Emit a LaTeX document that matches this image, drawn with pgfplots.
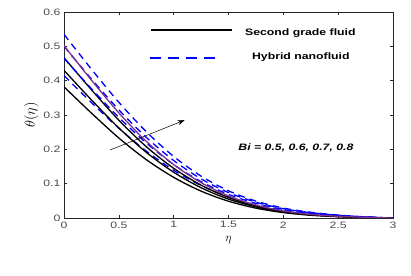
\documentclass[border=0pt]{standalone}
\usepackage{pgfplots}
\pgfplotsset{compat=1.18}
\usepackage{pgfplotstable}
\usepackage{fontspec}
\setmainfont{Liberation Sans}[FakeStretch=1.32]
\usetikzlibrary{arrows.meta}
\definecolor{mpurple}{rgb}{0.494,0.184,0.556}
\definecolor{tickgray}{gray}{0.30}
\definecolor{axgray}{gray}{0.15}

\pgfplotstableread{
eta   ka     kb     kc     kd     ba     bb     bc     bd
0     0.382  0.430  0.467  0.502  0.415  0.465  0.500  0.535
0.25  0.3056 0.344  0.3736 0.4016 0.3362 0.3767 0.405  0.4334
0.5   0.2330 0.2623 0.2849 0.3062 0.2615 0.2930 0.315  0.3371
0.75  0.1700 0.1914 0.2078 0.2234 0.1951 0.2186 0.235  0.2515
1.0   0.1184 0.1333 0.1448 0.1556 0.1390 0.1558 0.1675 0.1792
1.25  0.0783 0.0882 0.0957 0.1029 0.0946 0.1060 0.114  0.1220
1.5   0.0489 0.0550 0.0598 0.0643 0.0614 0.0688 0.074  0.0792
1.75  0.0287 0.0323 0.0350 0.0377 0.0382 0.0428 0.046  0.0492
2.0   0.0157 0.0176 0.0191 0.0206 0.0224 0.0251 0.027  0.0289
2.25  0.0080 0.0090 0.0098 0.0105 0.0129 0.0144 0.0155 0.0166
2.5   0.0038 0.0043 0.0047 0.0050 0.0066 0.0074 0.008  0.0086
2.75  0.0015 0.0017 0.0019 0.0020 0.0025 0.0028 0.003  0.0032
3.0   0      0      0      0      0      0      0      0
}\datatab

\begin{document}
\begin{tikzpicture}
\useasboundingbox (-64pt,-57pt) rectangle (347pt,218pt);
\begin{axis}[
  at={(0pt,0pt)}, anchor=south west,
  scale only axis, width=329pt, height=206pt,
  xmin=0, xmax=3, ymin=0, ymax=0.6,
  xtick={0,0.5,1,1.5,2,2.5,3},
  ytick={0,0.1,0.2,0.3,0.4,0.5,0.6},
  tick align=inside,
  major tick length=3pt,
  axis line style={axgray, line width=0.7pt},
  every tick/.style={axgray, line width=0.5pt},
  tick label style={font=\fontsize{9.3}{10}\selectfont, text=tickgray},
  /pgf/number format/assume math mode=true,
  yticklabel style={/pgf/number format/.cd, fixed, precision=1},
  xticklabel style={/pgf/number format/.cd, fixed, precision=1},
  xlabel={\fontsize{13}{14}\selectfont$\eta$},
  ylabel={\fontsize{14}{15}\selectfont$\theta(\eta)$},
  xlabel style={yshift=-1pt},
  ylabel style={yshift=-2pt},
]
\addplot[black, line width=1.3pt, smooth] table[x=eta, y=ka] {\datatab};
\addplot[blue, line width=1.3pt, smooth, dash pattern=on 7pt off 5pt] table[x=eta, y=ba] {\datatab};
\addplot[black, line width=1.3pt, smooth] table[x=eta, y=kb] {\datatab};
\addplot[black, line width=1.3pt, smooth] table[x=eta, y=kc] {\datatab};
\addplot[blue, line width=1.3pt, smooth, dash pattern=on 7pt off 5pt] table[x=eta, y=bb] {\datatab};
\addplot[blue, line width=1.3pt, smooth, dash pattern=on 7pt off 5pt] table[x=eta, y=bc] {\datatab};
\addplot[blue, line width=1.3pt, smooth, dash pattern=on 7pt off 5pt] table[x=eta, y=bd] {\datatab};
\addplot[mpurple, line width=1.3pt, smooth] table[x=eta, y=kd] {\datatab};
% legend
\draw[black, line width=1.3pt] (axis cs:0.79,0.548) -- (axis cs:1.53,0.548);
\draw[blue, line width=1.3pt, dash pattern=on 11pt off 7pt] (axis cs:0.78,0.466) -- (axis cs:1.42,0.466);
\node[font=\bfseries\fontsize{9.3}{10}\selectfont, anchor=west, inner sep=0pt] at (axis cs:1.65,0.539) {Second grade fluid};
\node[font=\bfseries\fontsize{9.3}{10}\selectfont, anchor=west, inner sep=0pt] at (axis cs:1.713,0.469) {Hybrid nanofluid};
\draw[black, line width=0.5pt, -{Stealth[length=7pt, width=5pt]}] (axis cs:0.42,0.198) -- (axis cs:1.10,0.285);
\node[font=\bfseries\itshape\fontsize{9.3}{10}\selectfont, anchor=center] at (axis cs:2.115,0.204) {Bi = 0.5, 0.6, 0.7, 0.8};
\end{axis}
\end{tikzpicture}
\end{document}
